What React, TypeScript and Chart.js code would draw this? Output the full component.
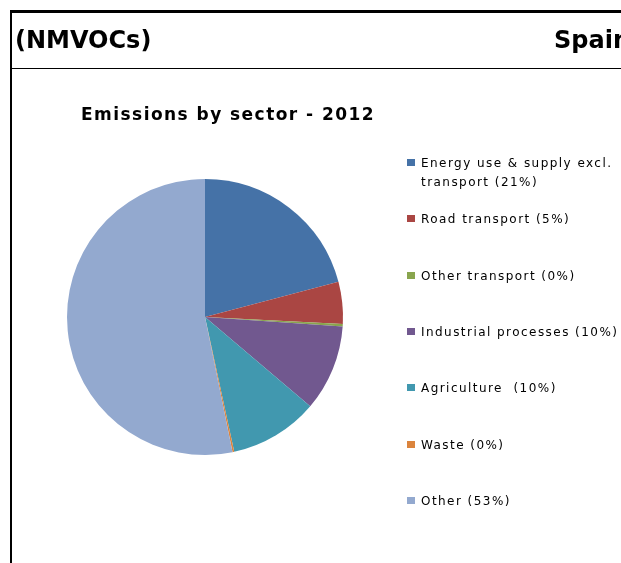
import React, { useEffect, useRef } from "react";
import { Chart, registerables } from "chart.js";

Chart.register(...registerables);

const sectors = [
  "Energy use & supply excl. transport",
  "Road transport",
  "Other transport",
  "Industrial processes",
  "Agriculture",
  "Waste",
  "Other",
];
const shares = [20.9, 4.9, 0.3, 10.1, 10.4, 0.2, 53.2];
const legendLines = [
  ["Energy use & supply excl.", "transport (21%)"],
  ["Road transport (5%)"],
  ["Other transport (0%)"],
  ["Industrial processes (10%)"],
  ["Agriculture  (10%)"],
  ["Waste (0%)"],
  ["Other (53%)"],
];
const colors = ["#4572A7", "#AA4643", "#89A54E", "#71588F", "#4198AF", "#DB843D", "#93A9CF"];

const chartTitle = "Emissions by sector - 2012";
const headerLeft = "(NMVOCs)";
const headerRight = "Spain";

const FONT = '"DejaVu Sans", Verdana, sans-serif';

const legendPlugin = {
  id: "sideLegend",
  afterDraw(chart: any) {
    const ctx = chart.ctx as CanvasRenderingContext2D;
    const ds = chart.data.datasets[0];
    ctx.save();
    ctx.font = `12px ${FONT}`;
    (ctx as any).letterSpacing = "1.45px";
    ctx.textBaseline = "alphabetic";
    ctx.textAlign = "left";
    const step = 56.3;
    chart.data.labels.forEach((_: string, i: number) => {
      const base = 167 + step * i;
      ctx.fillStyle = ds.backgroundColor[i];
      ctx.fillRect(407, Math.round(base - 8), 8, 7);
      ctx.fillStyle = "#000";
      legendLines[i].forEach((line, k) => {
        ctx.fillText(line, 421, Math.round(base + 19 * k));
      });
    });
    ctx.restore();
  },
};

export default function App() {
  const ref = useRef<HTMLCanvasElement>(null);
  useEffect(() => {
    if (!ref.current) return;
    const chart = new Chart(ref.current, {
      type: "pie",
      data: {
        labels: sectors,
        datasets: [
          {
            data: shares,
            backgroundColor: colors,
            borderWidth: 0,
            hoverOffset: 0,
            offset: 0,
            spacing: 0,
          } as any,
        ],
      },
      options: {
        animation: false,
        responsive: false,
        maintainAspectRatio: false,
        layout: { padding: { left: 67, right: 278, top: 179, bottom: 108 } },
        plugins: {
          legend: { display: false },
          title: { display: false },
          tooltip: { enabled: false },
        },
      },
      plugins: [legendPlugin],
    });
    return () => chart.destroy();
  }, []);

  return (
    <div
      style={{
        position: "fixed",
        left: 0,
        top: 0,
        width: 621,
        height: 563,
        overflow: "hidden",
        background: "#fff",
        fontFamily: FONT,
      }}
    >
      <canvas ref={ref} width={621} height={563} style={{ position: "absolute", left: 0, top: 0 }} />
      <div style={{ position: "absolute", left: 10, top: 10, width: 611, height: 3, background: "#000" }} />
      <div style={{ position: "absolute", left: 10, top: 10, width: 2, height: 553, background: "#000" }} />
      <div style={{ position: "absolute", left: 10, top: 68, width: 611, height: 1, background: "#000" }} />
      <div
        style={{
          position: "absolute",
          left: 15,
          top: 28,
          fontSize: 24,
          lineHeight: "24px",
          fontWeight: "bold",
          whiteSpace: "nowrap",
        }}
      >
        {headerLeft}
      </div>
      <div
        style={{
          position: "absolute",
          left: 554,
          top: 28,
          fontSize: 24,
          lineHeight: "24px",
          fontWeight: "bold",
          whiteSpace: "nowrap",
        }}
      >
        {headerRight}
      </div>
      <div
        style={{
          position: "absolute",
          left: 81,
          top: 106,
          fontSize: 17,
          lineHeight: "17px",
          fontWeight: "bold",
          letterSpacing: "1.45px",
          whiteSpace: "nowrap",
        }}
      >
        {chartTitle}
      </div>
    </div>
  );
}
